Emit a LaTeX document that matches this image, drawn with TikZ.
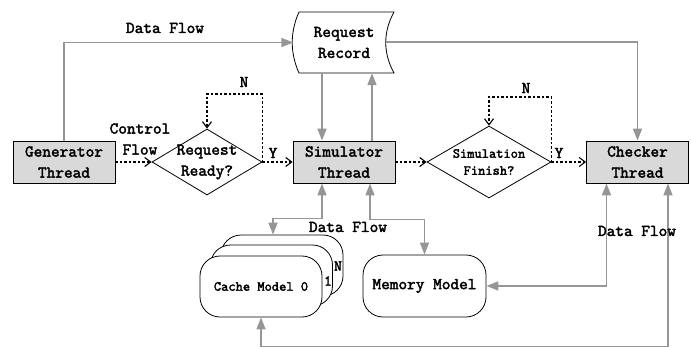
\documentclass[tikz,border=0pt]{standalone}
\usepackage{fontspec}
\setmainfont{lmmono10-regular.otf}[FakeBold=2.2]
\usetikzlibrary{shapes.geometric,arrows.meta,calc}
\definecolor{boxgray}{RGB}{217,217,217}
\definecolor{flowgray}{RGB}{150,150,150}
\begin{document}
\begin{tikzpicture}[x=1pt,y=-1pt,
  font=\fontsize{16.5}{21}\selectfont,
  thread/.style={draw,fill=boxgray,minimum width=102pt,minimum height=42pt,inner sep=0pt,align=center,line width=0.8pt},
  model/.style={draw,fill=white,rounded corners=20pt,minimum width=122pt,minimum height=61pt,inner sep=0pt,align=center,line width=0.8pt},
  decision/.style={draw,diamond,inner sep=0pt,line width=0.8pt},
  small/.style={font=\fontsize{13.8}{17}\selectfont},
  tip/.tip={Triangle[length=12pt,width=9pt]},
  data/.style={draw=flowgray,line width=1.6pt,-tip},
  both/.style={draw=flowgray,line width=1.6pt,tip-tip},
  ctrl/.style={draw,line width=1.1pt,dash pattern=on 2.5pt off 2pt,-{Straight Barb[length=6pt,width=9pt]}}
]
\useasboundingbox (0,0) rectangle (691,348);

% thread boxes
\node[thread] (gen) at (64,162) {Generator\\Thread};
\node[thread] (sim) at (344,162) {Simulator\\Thread};
\node[thread] (chk) at (637.5,162) {Checker\\Thread};

% request record (stored-data shape)
\draw[line width=0.8pt,fill=white] (299,12) -- (394,12) .. controls (383,32) and (383,53) .. (394,73)
  -- (299,73) .. controls (290,53) and (290,32) .. (299,12) -- cycle;
\node[minimum width=101pt,minimum height=61pt,inner sep=0pt,align=center] (rr) at (344,42.5) {Request\\Record};
\coordinate (rrR) at (386,42);

% decisions
\node[decision,minimum width=110pt,minimum height=66pt,
  label={[align=center]center:Request\\Ready?}] (d1) at (207,162) {};
\node[decision,minimum width=124pt,minimum height=72pt,
  label={[align=center,small]center:Simulation\\Finish?}] (d2) at (489,162) {};

% cache model stack
\node[model] (c2) at (282,265.5) {};
\node[model] (c1) at (271.5,275.5) {};
\node[model,small] (c0) at (261,286.5) {Cache Model 0};
\node[font=\fontsize{15}{15}\selectfont,inner sep=0pt] (l1) at (328,281) {1};
\node[font=\fontsize{15}{15}\selectfont,inner sep=0pt] (lN) at (338,266) {N};

% memory model
\node[model,minimum width=123pt,minimum height=62pt] (mem) at (424.5,286) {Memory Model};

% control flow
\draw[ctrl] (gen.east) -- (d1.west);
\draw[ctrl] (d1.east) -- (sim.west);
\draw[ctrl] (d1.east) -- ++(0,-68) -| (d1.north);
\draw[ctrl] (sim.east) -- (d2.west);
\draw[ctrl] (d2.east) -- (chk.west);
\draw[ctrl] (d2.east) -- ++(0,-65) -| (d2.north);

% data flow
\draw[data] (gen.north) |- (rr.west);
\draw[data] ([xshift=-22pt]rr.south) -- ([xshift=-22pt]sim.north);
\draw[data] ([xshift=28pt]sim.north) -- ([xshift=28pt]rr.south);
\draw[data] (rrR) -| (chk.north);
\draw[both] ([xshift=-22pt]sim.south) -- ++(0,35) -| ([xshift=-9pt]c2.north);
\draw[both] ([xshift=26pt]sim.south) -- ++(0,36) -| (mem.north);
\draw[both] ([xshift=-31pt]chk.south) |- (mem.east);
\draw[both] ([xshift=30.5pt]chk.south) -- ++(0,163) -| (c0.south);

% labels
\node (tData) at (165,28) {Data Flow};
\node[align=center] (tCtrl) at (140,139) {Control\\Flow};
\node (tN1) at (244,82) {N};
\node (tY1) at (273,153) {Y};
\node (tN2) at (526,88) {N};
\node (tY2) at (559,153) {Y};
\node (tSim) at (348,227) {Data Flow};
\node (tChk) at (637,231) {Data Flow};
\end{tikzpicture}
\end{document}
